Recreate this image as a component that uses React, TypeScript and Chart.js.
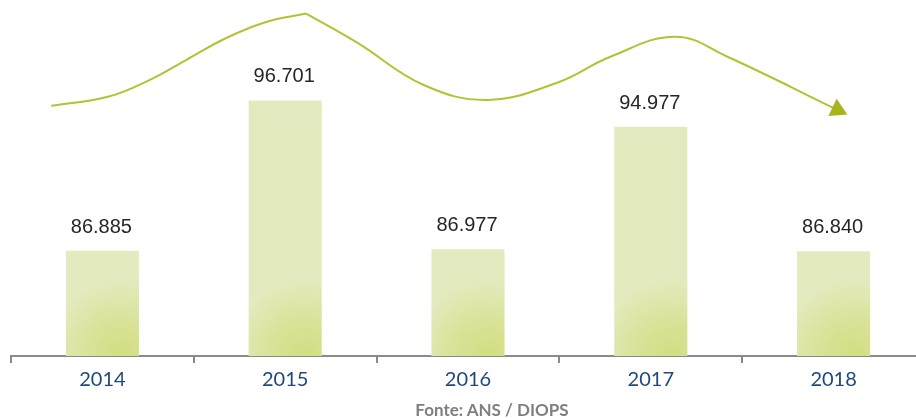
import React, { useEffect, useRef } from "react";
import { Chart, registerables } from "chart.js";

Chart.register(...registerables);

const years = ["2014", "2015", "2016", "2017", "2018"];
const values = [86885, 96701, 86977, 94977, 86840];

// decorative trend arrow, x in category-index units, y in value units
const trendRiseX = [-0.28, 0.03, 0.26, 0.46, 0.68, 0.9, 1.115];
const trendRiseY = [96350, 96940, 98050, 99360, 100800, 101850, 102380];
const trendFallX = [1.115, 1.394, 1.755, 2.105, 2.488, 2.779, 3.134, 3.419, 4.021];
const trendFallY = [102380, 100480, 97730, 96740, 97860, 99560, 100870, 99560, 96090];

const yMin = 80000;
const yMax = 102550;

const fmt = (v: number) => String(v).replace(/\B(?=(\d{3})+(?!\d))/g, ".");

const valueLabels = {
  id: "valueLabels",
  afterDatasetsDraw(chart: any) {
    const meta = chart.getDatasetMeta(0);
    const ctx = chart.ctx;
    ctx.save();
    ctx.font = '20px "Liberation Sans", Arial, sans-serif';
    ctx.fillStyle = "#262626";
    ctx.textAlign = "center";
    ctx.textBaseline = "alphabetic";
    meta.data.forEach((bar: any, i: number) => {
      ctx.fillText(fmt(values[i]), bar.x - 1, bar.y - 18);
    });
    ctx.restore();
  },
};

export default function App() {
  const ref = useRef<HTMLCanvasElement>(null);

  useEffect(() => {
    if (!ref.current) return;
    const lineColor = "#b5c132";
    const arrowColor = "#a9b41b";
    const chart = new Chart(ref.current, {
      type: "bar",
      data: {
        labels: years,
        datasets: [
          {
            label: "Valores",
            data: values,
            xAxisID: "x",
            yAxisID: "y",
            grouped: false,
            categoryPercentage: 1,
            barPercentage: 0.4,
            backgroundColor: (c: any) => {
              const ch = c.chart;
              const area = ch.chartArea;
              if (!area || c.type !== "data") return "#e2e9b8";
              const xs = ch.scales.x;
              const cx = xs.getPixelForValue(c.dataIndex);
              const w = (xs.width / years.length) * 0.4;
              const bottom = area.bottom;
              const gx = cx + w * 0.28;
              const g = ch.ctx.createRadialGradient(gx, bottom, 0, gx, bottom, w * 1.05);
              g.addColorStop(0, "#d3dd82");
              g.addColorStop(0.45, "#d9e297");
              g.addColorStop(1, "#e4eabf");
              return g;
            },
            borderWidth: 0,
          } as any,
          {
            type: "line",
            label: "Tendência A",
            data: trendRiseX.map((x, i) => ({ x, y: trendRiseY[i] })),
            xAxisID: "xTrend",
            yAxisID: "y",
            borderColor: lineColor,
            borderWidth: 2,
            tension: 0.4,
            pointRadius: 0,
            clip: false,
          } as any,
          {
            type: "line",
            label: "Tendência B",
            data: trendFallX.map((x, i) => ({ x, y: trendFallY[i] })),
            xAxisID: "xTrend",
            yAxisID: "y",
            borderColor: lineColor,
            borderWidth: 2,
            tension: 0.4,
            pointRadius: trendFallX.map((_, i) => (i === trendFallX.length - 1 ? 11 : 0)),
            pointStyle: "triangle",
            rotation: 115.7,
            pointBackgroundColor: arrowColor,
            pointBorderColor: arrowColor,
            pointBorderWidth: 0,
            clip: false,
          } as any,
        ],
      },
      options: {
        animation: false,
        responsive: false,
        maintainAspectRatio: false,
        layout: { padding: { left: 11, right: 11, top: 11, bottom: 21 } },
        plugins: { legend: { display: false }, tooltip: { enabled: false } },
        scales: {
          x: {
            type: "category",
            offset: true,
            grid: {
              offset: true,
              drawOnChartArea: false,
              drawTicks: true,
              tickLength: 7,
              color: "#8a8a8a",
              lineWidth: 2,
            },
            border: { display: true, color: "#8a8a8a", width: 2 },
            ticks: {
              color: "#1f497d",
              padding: 5,
              font: { family: "Lato, 'Open Sans', sans-serif", size: 20 },
            },
          },
          xTrend: {
            type: "linear",
            display: false,
            offset: false,
            grid: { offset: false },
            min: -0.5,
            max: 4.5,
          },
          y: { type: "linear", display: false, min: yMin, max: yMax },
        },
      } as any,
      plugins: [valueLabels],
    });
    return () => chart.destroy();
  }, []);

  return (
    <div
      style={{
        position: "fixed",
        left: 0,
        top: 0,
        width: 916,
        height: 418,
        overflow: "hidden",
        background: "#fff",
      }}
    >
      <canvas ref={ref} width={936} height={418} style={{ display: "block", width: 936, height: 418 }} />
      <div
        style={{
          position: "absolute",
          left: 492,
          top: 401,
          transform: "translateX(-50%)",
          whiteSpace: "nowrap",
          fontFamily: "Lato, 'Open Sans', sans-serif",
          fontWeight: 700,
          fontSize: 17,
          lineHeight: "18px",
          color: "#7f7f7f",
        }}
      >
        Fonte: ANS / DIOPS
      </div>
    </div>
  );
}
